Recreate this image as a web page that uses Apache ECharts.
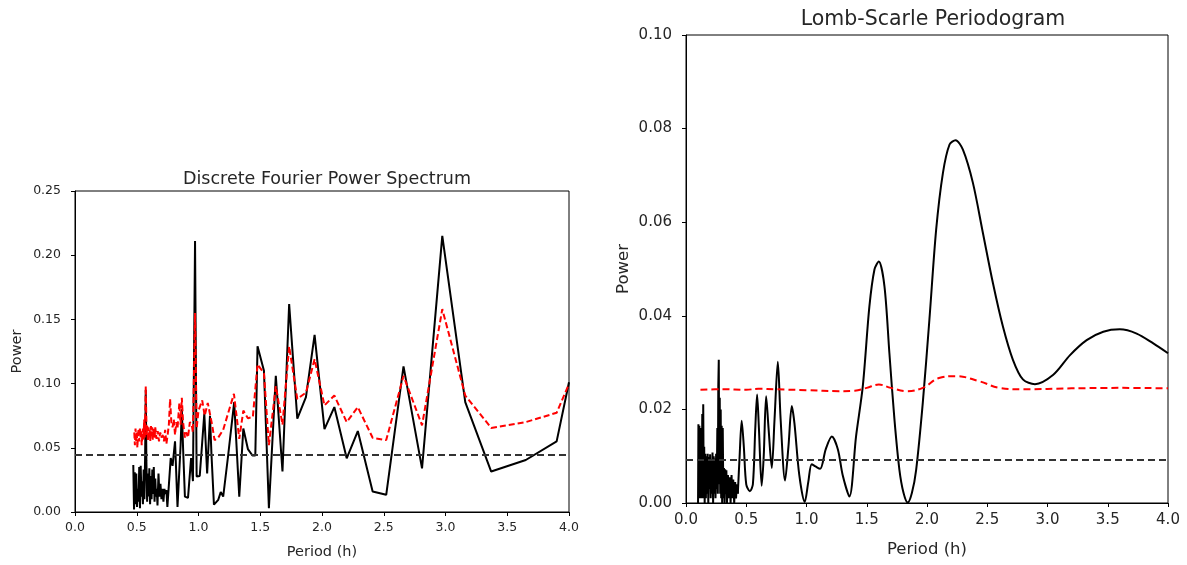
<!DOCTYPE html>
<html>
<head>
<meta charset="utf-8">
<script src="https://cdn.jsdelivr.net/npm/echarts@6/dist/echarts.min.js"></script>
<style>
html,body{margin:0;padding:0;background:#fff;}
#chart{width:1187px;height:565px;}
</style>
</head>
<body>
<div id="chart"></div>
<script>
// ---------- Left: Discrete Fourier Power Spectrum ----------
const dftPeriod = [0.472,0.478,0.484,0.490,0.496,0.502,0.508,0.514,0.520,0.526,0.532,0.538,0.544,0.550,0.556,0.562,0.568,0.573,0.578,0.584,0.590,0.596,0.602,0.608,0.614,0.620,0.626,0.632,0.638,0.644,0.650,0.656,0.662,0.668,0.676,0.684,0.692,0.700,0.708,0.716,0.724,0.732,0.740,0.748,0.755,0.775,0.790,0.810,0.830,0.855,0.865,0.875,0.890,0.915,0.940,0.955,0.972,0.985,1.010,1.047,1.070,1.093,1.105,1.125,1.160,1.180,1.200,1.240,1.289,1.330,1.363,1.400,1.437,1.460,1.478,1.530,1.570,1.626,1.680,1.734,1.800,1.870,1.940,2.020,2.100,2.200,2.290,2.410,2.520,2.660,2.810,2.974,3.160,3.370,3.650,3.900,4.000];
const dftPower = [0.0366,0.002,0.031,0.006,0.030,0.004,0.018,0.008,0.035,0.003,0.036,0.012,0.024,0.006,0.033,0.010,0.045,0.095,0.040,0.008,0.030,0.012,0.034,0.006,0.028,0.010,0.033,0.014,0.035,0.008,0.026,0.012,0.018,0.005,0.030,0.012,0.022,0.010,0.018,0.008,0.018,0.014,0.017,0.004,0.0044,0.042,0.036,0.055,0.004,0.052,0.080,0.050,0.012,0.011,0.042,0.024,0.211,0.0276,0.028,0.0766,0.030,0.075,0.045,0.0057,0.0095,0.0155,0.012,0.044,0.0856,0.012,0.065,0.049,0.044,0.044,0.129,0.110,0.003,0.106,0.0315,0.162,0.0727,0.0894,0.138,0.0645,0.0817,0.0418,0.063,0.016,0.0134,0.1134,0.034,0.215,0.0856,0.0315,0.0405,0.055,0.101];

const dftSigPeriod = [0.480,0.485,0.490,0.495,0.500,0.505,0.510,0.515,0.520,0.525,0.530,0.535,0.540,0.545,0.550,0.555,0.560,0.565,0.573,0.580,0.585,0.590,0.595,0.600,0.605,0.610,0.615,0.620,0.625,0.630,0.635,0.640,0.645,0.650,0.660,0.670,0.680,0.690,0.700,0.710,0.720,0.730,0.740,0.750,0.760,0.770,0.780,0.790,0.800,0.810,0.820,0.830,0.845,0.855,0.865,0.875,0.890,0.900,0.915,0.930,0.945,0.955,0.972,0.985,1.000,1.030,1.050,1.075,1.110,1.130,1.160,1.200,1.240,1.287,1.330,1.363,1.400,1.440,1.478,1.530,1.570,1.626,1.680,1.734,1.800,1.870,1.940,2.020,2.100,2.200,2.290,2.410,2.520,2.660,2.810,2.974,3.160,3.370,3.650,3.900,4.000];
const dftSigPower = [0.062,0.052,0.065,0.055,0.063,0.050,0.060,0.065,0.055,0.066,0.058,0.064,0.052,0.060,0.065,0.056,0.072,0.058,0.098,0.060,0.067,0.055,0.066,0.058,0.064,0.055,0.067,0.060,0.066,0.056,0.065,0.060,0.058,0.066,0.057,0.063,0.055,0.062,0.058,0.060,0.055,0.064,0.053,0.060,0.068,0.088,0.070,0.066,0.072,0.060,0.070,0.065,0.085,0.068,0.089,0.070,0.058,0.062,0.058,0.070,0.068,0.062,0.155,0.065,0.079,0.087,0.075,0.085,0.068,0.056,0.058,0.064,0.077,0.092,0.057,0.079,0.073,0.074,0.115,0.108,0.052,0.098,0.068,0.129,0.088,0.093,0.119,0.083,0.0907,0.070,0.0817,0.0578,0.056,0.106,0.0675,0.158,0.0907,0.0655,0.070,0.0773,0.0998];

const dftThreshold = 0.0443;

// ---------- Right: Lomb-Scargle Periodogram ----------
const lsNoisePeriod = [0.100,0.103,0.107,0.111,0.115,0.119,0.123,0.127,0.131,0.135,0.139,0.143,0.147,0.151,0.155,0.160,0.165,0.170,0.175,0.180,0.185,0.190,0.195,0.200,0.205,0.210,0.215,0.220,0.225,0.230,0.235,0.240,0.245,0.250,0.255,0.260,0.264,0.268,0.272,0.276,0.280,0.284,0.288,0.292,0.296,0.300,0.305,0.310,0.315,0.320,0.325,0.330,0.335,0.340,0.348,0.355,0.362,0.370,0.378,0.385,0.392,0.400,0.408,0.415,0.422,0.430];
const lsNoisePower = [0.000,0.0168,0.001,0.0165,0.002,0.0160,0.001,0.0150,0.002,0.0190,0.001,0.0211,0.003,0.0120,0.000,0.0105,0.001,0.0100,0.002,0.0105,0.000,0.0098,0.003,0.0104,0.001,0.0090,0.002,0.0108,0.000,0.0100,0.002,0.0095,0.001,0.0105,0.003,0.0160,0.002,0.0250,0.0306,0.004,0.0225,0.002,0.0200,0.001,0.0165,0.000,0.0160,0.001,0.0075,0.000,0.0072,0.002,0.0070,0.000,0.0060,0.001,0.0055,0.000,0.0060,0.001,0.0050,0.000,0.0045,0.001,0.0040,0.002];

const lsPeriod = [0.430,0.445,0.462,0.480,0.500,0.530,0.555,0.575,0.590,0.605,0.628,0.645,0.665,0.685,0.712,0.735,0.762,0.785,0.822,0.850,0.878,0.900,0.940,0.985,1.015,1.043,1.075,1.113,1.160,1.210,1.260,1.300,1.356,1.411,1.467,1.522,1.564,1.600,1.647,1.688,1.730,1.771,1.805,1.840,1.875,1.910,1.965,2.020,2.076,2.132,2.187,2.237,2.298,2.381,2.464,2.547,2.630,2.713,2.796,2.896,3.048,3.187,3.325,3.463,3.600,3.740,3.878,4.000];
const lsPower = [0.002,0.010,0.0176,0.012,0.004,0.0025,0.004,0.016,0.0232,0.016,0.0037,0.010,0.0228,0.016,0.0075,0.018,0.0302,0.018,0.0048,0.012,0.0207,0.017,0.006,0.0002,0.0045,0.0083,0.0078,0.0073,0.0115,0.0142,0.0115,0.006,0.0014,0.0142,0.0249,0.0420,0.0499,0.0516,0.0463,0.0320,0.0178,0.0071,0.0022,0.0001,0.0022,0.0071,0.0214,0.0392,0.0584,0.0705,0.0766,0.0775,0.0755,0.0684,0.0577,0.0470,0.0377,0.0306,0.0264,0.0254,0.0274,0.0316,0.0348,0.0366,0.0371,0.0362,0.0341,0.0320];

const lsSigPeriod = [0.120,0.300,0.500,0.600,0.750,1.000,1.270,1.400,1.500,1.600,1.700,1.830,1.965,2.100,2.240,2.436,2.600,2.800,3.200,3.600,4.000];
const lsSigPower = [0.0242,0.0243,0.0242,0.0244,0.0243,0.0241,0.0239,0.0240,0.0246,0.0253,0.0246,0.0239,0.0246,0.0267,0.0271,0.0260,0.0246,0.0243,0.0245,0.0246,0.0245];

const lsThreshold = 0.0092;

const zip = (a, b) => a.map((v, i) => [v, b[i]]);

const chart = echarts.init(document.getElementById('chart'), null, {renderer: 'canvas'});
const FONT = 'DejaVu Sans';
const TXT = '#262626';

function xAxisCfg(gridIndex, fs, nfs, gap, nameGap) {
  return {
    type: 'value', gridIndex, min: 0, max: 4, interval: 0.5,
    name: 'Period (h)', nameLocation: 'middle', nameGap: nameGap,
    nameTextStyle: {fontFamily: FONT, fontSize: nfs, color: TXT},
    axisLine: {show: true, onZero: false, lineStyle: {color: '#000', width: 1}},
    axisTick: {show: true, inside: false, length: 4, lineStyle: {color: '#000'}},
    axisLabel: {fontFamily: FONT, fontSize: fs, color: TXT, margin: gap,
      formatter: v => v.toFixed(1)},
    splitLine: {show: false}
  };
}
function yAxisCfg(gridIndex, max, interval, fs, nfs, gap, nameGap) {
  return {
    type: 'value', gridIndex, min: 0, max: max, interval: interval,
    name: 'Power', nameLocation: 'middle', nameGap: nameGap,
    nameTextStyle: {fontFamily: FONT, fontSize: nfs, color: TXT},
    axisLine: {show: true, onZero: false, lineStyle: {color: '#000', width: 1}},
    axisTick: {show: true, inside: false, length: 4, lineStyle: {color: '#000'}},
    axisLabel: {fontFamily: FONT, fontSize: fs, color: TXT, margin: gap,
      formatter: v => v.toFixed(2)},
    splitLine: {show: false}
  };
}

const option = {
  animation: false,
  backgroundColor: '#fff',
  title: [
    {text: 'Discrete Fourier Power Spectrum', left: 322, top: 165, textAlign: 'center',
      textStyle: {fontFamily: FONT, fontSize: 17.5, fontWeight: 'normal', color: TXT}},
    {text: 'Lomb-Scarle Periodogram', left: 928, top: 4, textAlign: 'center',
      textStyle: {fontFamily: FONT, fontSize: 20.5, fontWeight: 'normal', color: TXT}}
  ],
  grid: [
    {left: 75, top: 191, width: 494, height: 323, show: true, borderColor: '#000', borderWidth: 1, containLabel: false},
    {left: 686, top: 35, width: 482, height: 468, show: true, borderColor: '#000', borderWidth: 1, containLabel: false}
  ],
  xAxis: [xAxisCfg(0, 12.5, 14.5, 9, 33), xAxisCfg(1, 15, 16.5, 10, 38)],
  yAxis: [yAxisCfg(0, 0.25, 0.05, 12.5, 14.5, 14, 50), yAxisCfg(1, 0.10, 0.02, 15, 16.5, 14, 54)],
  series: [
    {type: 'line', xAxisIndex: 0, yAxisIndex: 0, data: zip(dftPeriod, dftPower), showSymbol: false,
      lineStyle: {color: '#000', width: 2}, z: 3},
    {type: 'line', xAxisIndex: 0, yAxisIndex: 0, data: zip(dftSigPeriod, dftSigPower), showSymbol: false,
      lineStyle: {color: '#ff0000', width: 2, type: [6, 3]}, z: 4},
    {type: 'line', xAxisIndex: 0, yAxisIndex: 0, data: [[0, dftThreshold], [4, dftThreshold]], showSymbol: false,
      lineStyle: {color: '#333', width: 2, type: [7, 4]}, z: 5},
    {type: 'line', xAxisIndex: 1, yAxisIndex: 1, data: zip(lsNoisePeriod, lsNoisePower), showSymbol: false,
      lineStyle: {color: '#000', width: 2}, z: 3},
    {type: 'line', xAxisIndex: 1, yAxisIndex: 1, data: zip(lsPeriod, lsPower), showSymbol: false, smooth: 0.3,
      lineStyle: {color: '#000', width: 2}, z: 3},
    {type: 'line', xAxisIndex: 1, yAxisIndex: 1, data: zip(lsSigPeriod, lsSigPower), showSymbol: false, smooth: 0.4,
      lineStyle: {color: '#ff0000', width: 2, type: [7, 4]}, z: 4},
    {type: 'line', xAxisIndex: 1, yAxisIndex: 1, data: [[0, lsThreshold], [4, lsThreshold]], showSymbol: false,
      lineStyle: {color: '#333', width: 2, type: [7, 4]}, z: 5}
  ]
};
chart.setOption(option);
</script>
</body>
</html>
